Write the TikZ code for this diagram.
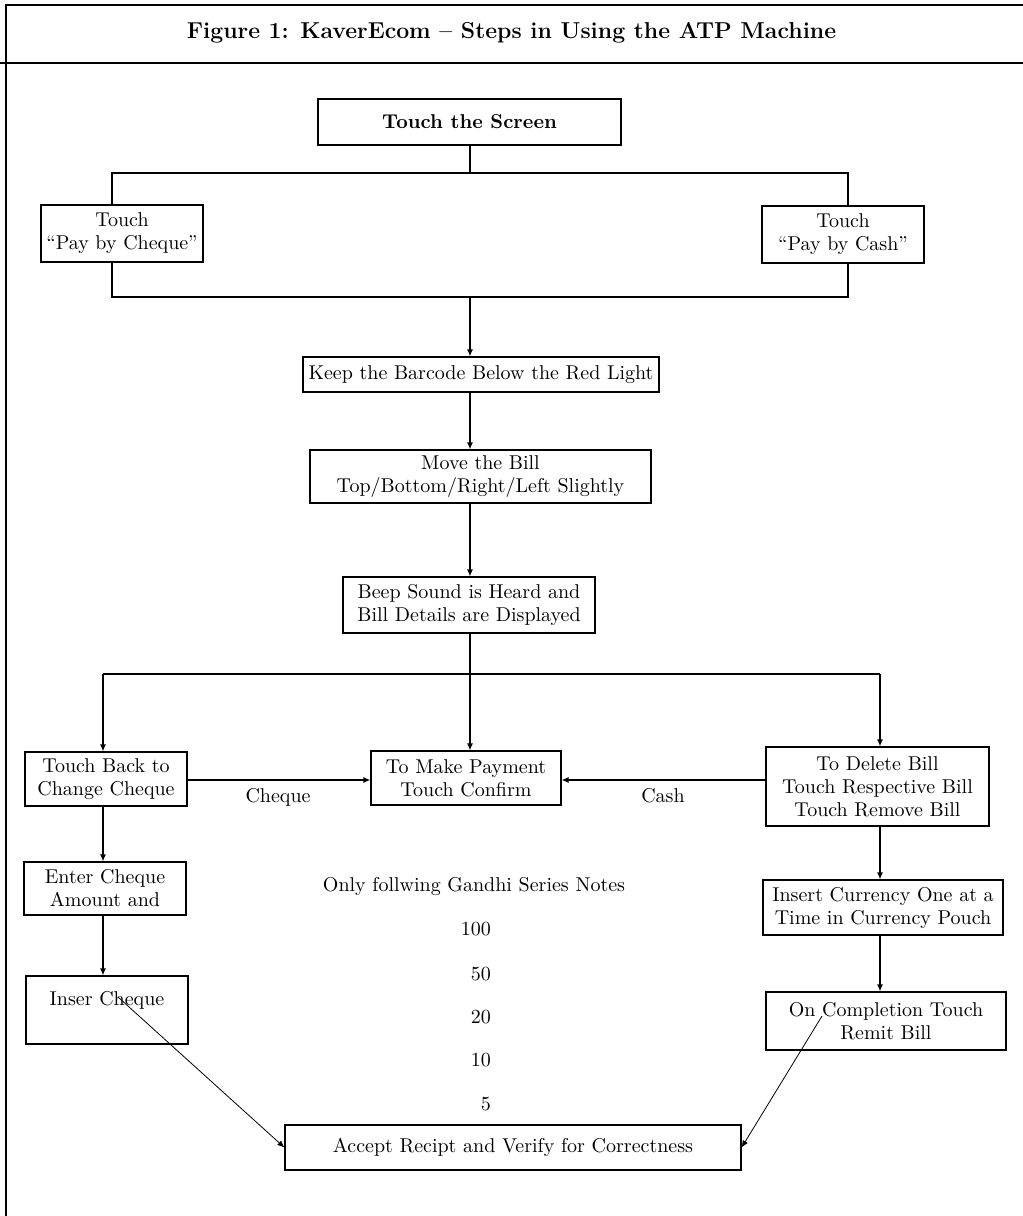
\documentclass[tikz,border=0pt]{standalone}
\usepackage{fontspec}
\usetikzlibrary{arrows.meta}
\begin{document}
\begin{tikzpicture}[x=0.5pt,y=-0.5pt,
  every node/.style={font=\fontsize{10}{11.5}\selectfont},
  stepbox/.style={draw, line width=0.6pt, inner sep=1pt, align=center},
  sz/.style 2 args={minimum width=#1*0.5pt, minimum height=#2*0.5pt},
  link/.style={line width=0.6pt},
  arr/.style={line width=0.6pt, -{Latex[length=3.5pt,width=3pt]}},
  frame/.style={line width=0.8pt}]

\useasboundingbox (0,0) rectangle (1023,1216);

% outer frame and title band
\draw[frame] (6,1216) -- (6,5) -- (1023,5);
\draw[frame] (0,63) -- (1023,63);
\node[font=\bfseries\fontsize{11.5}{14}\selectfont] (title) at (511.5,33)
  {Figure 1: KaverEcom – Steps in Using the ATP Machine};

% steps
\node[stepbox, sz={303}{46}, font=\bfseries\fontsize{10}{11.5}\selectfont] (screen) at (469.5,122) {Touch the Screen};
\node[stepbox, sz={162}{57}] (cheq) at (122,233.5) {Touch\\“Pay by Cheque”};
\node[stepbox, sz={162}{57}] (cash) at (843,234.5) {Touch\\“Pay by Cash”};
\node[stepbox, sz={356}{35}] (keep) at (481,374.5) {Keep the Barcode Below the Red Light};
\node[stepbox, sz={341}{53}] (move) at (480.5,476.5) {Move the Bill\\Top/Bottom/Right/Left Slightly};
\node[stepbox, sz={252}{56}] (beep) at (469,605) {Beep Sound is Heard and\\Bill Details are Displayed};
\node[stepbox, sz={162}{54}] (back) at (106,779) {Touch Back to\\Change Cheque};
\node[stepbox, sz={190}{54}] (pay) at (466,778) {To Make Payment\\Touch Confirm};
\node[stepbox, sz={223}{79}] (del) at (877.5,786.5) {To Delete Bill\\Touch Respective Bill\\Touch Remove Bill};
\node[stepbox, sz={162}{53}] (enter) at (105,888.5) {Enter Cheque\\Amount and};
\node[stepbox, sz={162}{68}] (insc) at (107,1010) {Inser Cheque\\[0pt]{}};
\node[stepbox, sz={240}{55}] (curr) at (883,907.5) {Insert Currency One at a\\Time in Currency Pouch};
\node[stepbox, sz={240}{58}] (done) at (886,1021) {On Completion Touch\\Remit Bill};
\node[stepbox, sz={456}{45}] (accept) at (513,1147.5) {Accept Recipt and Verify for Correctness};

% notes
\node (notes) at (474,886) {Only follwing Gandhi Series Notes};
\node[anchor=east] (n100) at (498,929) {100};
\node[anchor=east] (n50) at (498,974) {50};
\node[anchor=east] (n20) at (498,1017) {20};
\node[anchor=east] (n10) at (498,1060) {10};
\node[anchor=east] (n5) at (498,1104) {5};

% junction points
\coordinate (lc) at (112,173);
\coordinate (rc) at (848,173);
\coordinate (lcb) at (112,297);
\coordinate (rcb) at (848,297);
\coordinate (fl) at (103,674);
\coordinate (fr) at (880,674);
\coordinate (spine) at (470,0);
\coordinate (cashy) at (0,780);
\coordinate (ia) at (118,997);
\coordinate (da) at (822,1016);

% choice of payment
\draw[link] (screen.south -| spine) -- (spine |- lc);
\draw[link] (cheq.north -| lc) -- (lc) -- (rc) -- (cash.north -| rc);
\draw[link] (cheq.south -| lc) -- (lcb) -- (rcb) -- (cash.south -| rc);
\draw[arr] (spine |- lcb) -- (keep.north -| spine);
\draw[arr] (keep.south -| spine) -- (move.north -| spine);
\draw[arr] (move.south -| spine) -- (beep.north -| spine);

% three branches
\draw[link] (fl) -- (fr);
\draw[arr] (beep.south -| spine) -- (pay.north -| spine);
\draw[arr] (fl) -- (back.north -| fl);
\draw[arr] (fr) -- (del.north -| fr);

\draw[arr] (back.east |- cashy) -- (pay.west |- cashy);
\node (lcheque) at (278,797) {Cheque};
\draw[arr] (del.west |- cashy) -- (pay.east |- cashy);
\node (lcash) at (663,796) {Cash};

\draw[arr] (back.south -| fl) -- (enter.north -| fl);
\draw[arr] (enter.south -| fl) -- (insc.north -| fl);
\draw[arr] (del.south -| fr) -- (curr.north -| fr);
\draw[arr] (curr.south -| fr) -- (done.north -| fr);

\draw[arr, line width=0.4pt] (ia) -- (accept.west);
\draw[arr, line width=0.4pt] (da) -- (accept.east);
\end{tikzpicture}
\end{document}
